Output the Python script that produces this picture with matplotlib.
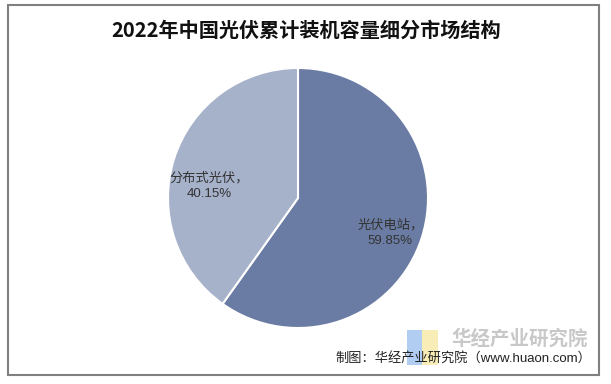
import matplotlib.pyplot as plt
from matplotlib.patches import Rectangle
import numpy as np

plt.rcParams['font.family'] = ['Liberation Sans', 'Noto Sans CJK SC', 'DejaVu Sans']

categories = ['光伏电站', '分布式光伏']
shares = [59.85, 40.15]
colors = ['#6a7ca3', '#a6b1ca']
title = '2022年中国光伏累计装机容量细分市场结构'
source = '制图：华经产业研究院（www.huaon.com）'

W, H = 611, 384
fig = plt.figure(figsize=(W / 100, H / 100), dpi=100)

# outer frame
fig.patches.append(Rectangle((8 / W, 1 - 375 / H), 591 / W, 370 / H, transform=fig.transFigure,
                             fill=False, edgecolor='#808080', linewidth=1.5))

cx, cy, r = 298, 198, 130
ax = fig.add_axes([(cx - r) / W, 1 - (cy + r) / H, 2 * r / W, 2 * r / H])
wedges, _ = ax.pie(shares, colors=colors, startangle=90, counterclock=False,
                   wedgeprops=dict(edgecolor='white', linewidth=1.5), radius=1)
ax.set_xlim(-1, 1)
ax.set_ylim(-1, 1)
ax.set_aspect('equal')
ax.axis('off')

dists = [0.76, 0.69]
offs = [-3, 10]
for w, name, val, d, o in zip(wedges, categories, shares, dists, offs):
    ang = np.deg2rad((w.theta1 + w.theta2) / 2 + o)
    ax.text(d * np.cos(ang), d * np.sin(ang), f'{name}，\n{val:.2f}%', ha='center', va='center',
            fontsize=9.5, color='#333333', linespacing=1.45)

fig.text(306 / W, 1 - 30 / H, title, ha='center', va='center', fontsize=14.5,
         fontweight='bold', color='#111111', family=['Noto Sans CJK SC'])

# logo
fig.patches.append(Rectangle((407 / W, 1 - 365 / H), 15 / W, 35 / H, transform=fig.transFigure,
                             facecolor='#a9c8f0', edgecolor='none', alpha=0.9))
fig.patches.append(Rectangle((422 / W, 1 - 365 / H), 16 / W, 35 / H, transform=fig.transFigure,
                             facecolor='#f8ebb0', edgecolor='none', alpha=0.9))
fig.text(520 / W, 1 - 339 / H, '华经产业研究院', ha='center', va='center', fontsize=14,
         fontweight='bold', color='#c8c8c8', family=['Noto Sans CJK SC'])
fig.text(591 / W, 1 - 358 / H, source, ha='right', va='center', fontsize=9.5, color='#222222')

fig.savefig('out.png', dpi=100)
